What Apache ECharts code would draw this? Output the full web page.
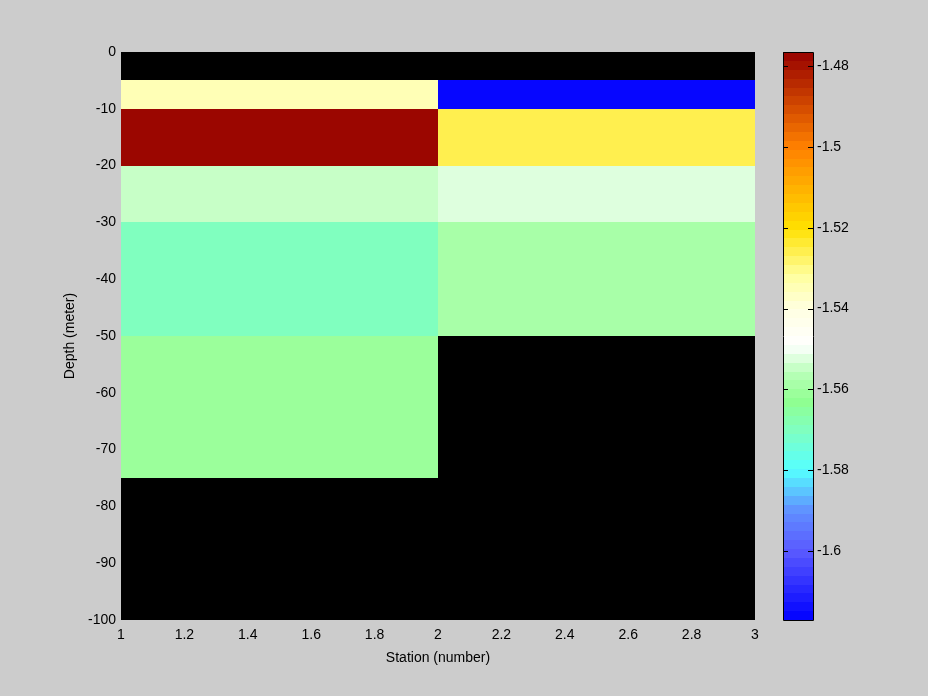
<!DOCTYPE html>
<html><head><meta charset="utf-8">
<script src="https://cdn.jsdelivr.net/npm/echarts@6/dist/echarts.min.js"></script>
<style>html,body{margin:0;padding:0;background:#cccccc;}#c{width:928px;height:696px;}</style>
</head><body><div id="c"></div>
<script>
// ---- data ----
var stationEdges = [1, 2, 3];
var depthEdges = [0, -5, -10, -20, -30, -50, -75, -100];
var station1Values = [null, -1.534, -1.4765, -1.555, -1.569, -1.561, null];
var station2Values = [null, -1.617, -1.525, -1.552, -1.559, null, null];
var xTicks = [1, 1.2, 1.4, 1.6, 1.8, 2, 2.2, 2.4, 2.6, 2.8, 3];
var yTicks = [0, -10, -20, -30, -40, -50, -60, -70, -80, -90, -100];
var cbarTicks = [-1.6, -1.58, -1.56, -1.54, -1.52, -1.5, -1.48];
var cMin = -1.6171, cMax = -1.4765;
var nLevels = 64;
// colormap stops: [value, color]
var cmapStops = [
  [-1.6171, [0, 0, 255]],
  [-1.600, [90, 90, 255]],
  [-1.590, [96, 144, 255]],
  [-1.580, [85, 255, 255]],
  [-1.570, [128, 255, 192]],
  [-1.563, [144, 255, 144]],
  [-1.556, [184, 255, 184]],
  [-1.549, [255, 255, 255]],
  [-1.540, [255, 255, 224]],
  [-1.532, [255, 255, 160]],
  [-1.520, [255, 224, 0]],
  [-1.500, [255, 128, 0]],
  [-1.4765, [150, 0, 0]]
];

function cmapAt(v) {
  for (var i = 1; i < cmapStops.length; i++) {
    if (v <= cmapStops[i][0]) {
      var a = cmapStops[i - 1], b = cmapStops[i];
      var t = Math.max(0, (v - a[0]) / (b[0] - a[0]));
      var c = [0, 1, 2].map(function (k) { return Math.round(a[1][k] + (b[1][k] - a[1][k]) * t); });
      return 'rgb(' + c.join(',') + ')';
    }
  }
  var l = cmapStops[cmapStops.length - 1][1];
  return 'rgb(' + l.join(',') + ')';
}
function colorFor(v) {
  var idx = Math.floor((v - cMin) / (cMax - cMin) * nLevels);
  idx = Math.max(0, Math.min(nLevels - 1, idx));
  return cmapAt(cMin + (cMax - cMin) * (idx + 0.5) / nLevels);
}

// build cell data: [x0, x1, y0, y1, value]
var cells = [];
[station1Values, station2Values].forEach(function (vals, s) {
  vals.forEach(function (v, r) {
    if (v !== null) cells.push([stationEdges[s], stationEdges[s + 1], depthEdges[r], depthEdges[r + 1], v]);
  });
});
var levels = [];
for (var i = 0; i < nLevels; i++) {
  var lo = cMin + (cMax - cMin) * i / nLevels, hi = cMin + (cMax - cMin) * (i + 1) / nLevels;
  levels.push([0, 1, lo, hi]);
}

var font = 'Liberation Sans';
var fs = 14;
function fmt(v) { return String(Number(v.toFixed(2))); }
var chart = echarts.init(document.getElementById('c'));
chart.setOption({
  backgroundColor: '#cccccc',
  animation: false,
  textStyle: { fontFamily: font },
  grid: [
    { left: 121, top: 52, width: 634, height: 568, show: true, backgroundColor: '#000000', borderWidth: 0 },
    { left: 783, top: 52, width: 30, height: 568, show: false }
  ],
  xAxis: [
    { gridIndex: 0, type: 'value', min: 1, max: 3, interval: 0.2,
      name: 'Station (number)', nameLocation: 'middle', nameGap: 31,
      nameTextStyle: { color: '#000', fontSize: fs, fontFamily: font },
      axisLine: { show: false }, axisTick: { show: false }, splitLine: { show: false },
      axisLabel: { color: '#000', fontSize: fs, fontFamily: font, margin: 8,
        customValues: xTicks, formatter: fmt } },
    { gridIndex: 1, type: 'value', min: 0, max: 1, show: false }
  ],
  yAxis: [
    { gridIndex: 0, type: 'value', min: -100, max: 0, interval: 10,
      name: 'Depth (meter)', nameLocation: 'middle', nameGap: 40, nameRotate: 90,
      nameTextStyle: { color: '#000', fontSize: fs, fontFamily: font },
      axisLine: { show: false }, axisTick: { show: false }, splitLine: { show: false },
      axisLabel: { color: '#000', fontSize: fs, fontFamily: font, margin: 5, customValues: yTicks } },
    { gridIndex: 1, type: 'value', min: cMin, max: cMax, position: 'right',
      axisLine: { show: false }, splitLine: { show: false }, axisTick: { show: false },
      axisLabel: { color: '#000', fontSize: fs, fontFamily: font, margin: 4, customValues: cbarTicks, formatter: fmt } }
  ],
  series: [
    { type: 'custom', xAxisIndex: 0, yAxisIndex: 0, data: cells, silent: true,
      renderItem: function (params, api) {
        var p0 = api.coord([api.value(0), api.value(2)]);
        var p1 = api.coord([api.value(1), api.value(3)]);
        return { type: 'rect', shape: { x: Math.round(p0[0]), y: Math.round(p0[1]),
            width: Math.round(p1[0]) - Math.round(p0[0]), height: Math.round(p1[1]) - Math.round(p0[1]) },
          style: { fill: colorFor(api.value(4)) } };
      } },
    { type: 'custom', xAxisIndex: 1, yAxisIndex: 1, data: levels, silent: true, z: 1,
      renderItem: function (params, api) {
        var p0 = api.coord([0, api.value(2)]);
        var p1 = api.coord([1, api.value(3)]);
        var mid = (api.value(2) + api.value(3)) / 2;
        return { type: 'rect', shape: { x: p0[0], y: Math.round(p1[1]), width: p1[0] - p0[0], height: Math.round(p0[1]) - Math.round(p1[1]) },
          style: { fill: cmapAt(mid) } };
      } },
    { type: 'custom', xAxisIndex: 1, yAxisIndex: 1, data: [[0, 1, cMin, cMax]], silent: true, z: 5,
      renderItem: function (params, api) {
        var p0 = api.coord([0, api.value(2)]);
        var p1 = api.coord([1, api.value(3)]);
        return { type: 'rect', shape: { x: Math.round(p0[0]) + 0.5, y: Math.round(p1[1]) + 0.5,
            width: Math.round(p1[0] - p0[0]), height: Math.round(p0[1] - p1[1]) },
          style: { fill: 'none', stroke: '#000', lineWidth: 1 } };
      } },
    { type: 'custom', xAxisIndex: 1, yAxisIndex: 1, data: cbarTicks.map(function (t) { return [t]; }), silent: true, z: 6,
      renderItem: function (params, api) {
        var pl = api.coord([0, api.value(0)]);
        var pr = api.coord([1, api.value(0)]);
        var y = Math.round(pl[1]) + 0.5;
        var xl = Math.round(pl[0]), xr = Math.round(pr[0]);
        return { type: 'group', children: [
          { type: 'line', shape: { x1: xl, y1: y, x2: xl + 5, y2: y }, style: { stroke: '#000', lineWidth: 1 } },
          { type: 'line', shape: { x1: xr - 5, y1: y, x2: xr, y2: y }, style: { stroke: '#000', lineWidth: 1 } }
        ] };
      } }
  ]
});
</script>
</body></html>
